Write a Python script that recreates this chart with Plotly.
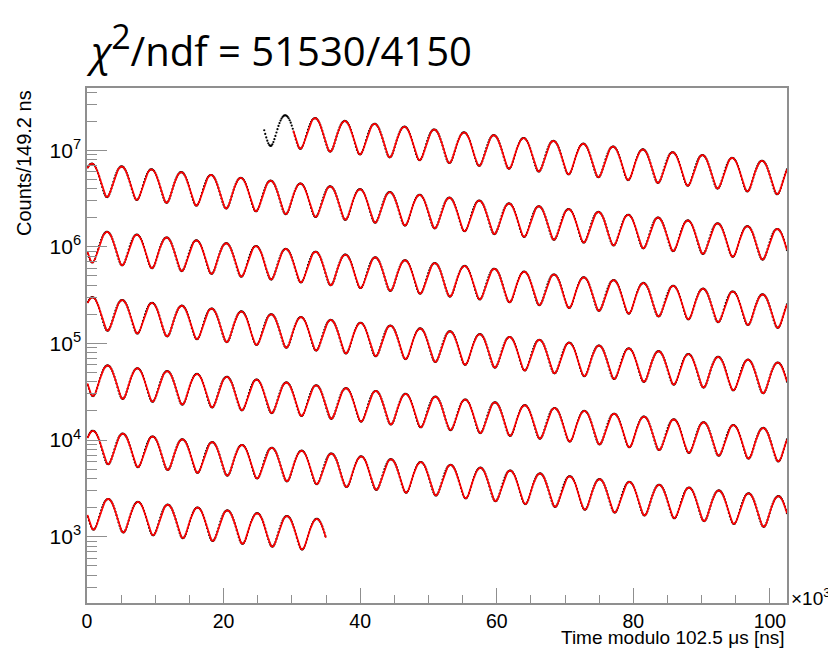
import numpy as np
import plotly.graph_objects as go

# Histogram binning and wrap of the time axis (microseconds)
BIN_WIDTH_US = 0.1492
WRAP_US = 102.5
DATA_START_US = 25.95
DATA_END_US = 650.0
FIT_START_US = 30.2

# Fitted five-parameter wiggle: N0 * exp(-t/tau) * (1 + A cos(omega_a (t - t_peak)))
N0 = 2.65e7
TAU_US = 64.4
ASYM = 0.365
PERIOD_US = 4.3635
T_PEAK_US = 29.05

CHI2 = 51530
NDF = 4150

X_TICKS = [0, 20, 40, 60, 80, 100]
Y_DECADES = [3, 4, 5, 6, 7]


def wiggle(t):
    return N0 * np.exp(-t / TAU_US) * (1 + ASYM * np.cos(2 * np.pi * (t - T_PEAK_US) / PERIOD_US))


def wrapped(t, y):
    """Fold time modulo WRAP_US, breaking the line between rows."""
    row = np.floor(t / WRAP_US).astype(int)
    xs, ys = [], []
    for k in np.unique(row):
        m = row == k
        xs.extend((t[m] - k * WRAP_US).tolist())
        ys.extend(y[m].tolist())
        xs.append(None)
        ys.append(None)
    return xs, ys


t_data = np.arange(DATA_START_US, DATA_END_US, BIN_WIDTH_US)
counts = wiggle(t_data)
t_fit = np.arange(FIT_START_US, DATA_END_US, BIN_WIDTH_US / 2)
fit = wiggle(t_fit)

xd, yd = wrapped(t_data, counts)
xf, yf = wrapped(t_fit, fit)

AX_COL = "#8f8f8f"
FONT = "Liberation Sans, Arial, Helvetica, sans-serif"

fig = go.Figure()
fig.add_trace(go.Scatter(x=xd, y=yd, mode="markers",
                         marker=dict(color="black", size=2.2),
                         hoverinfo="skip", showlegend=False))
fig.add_trace(go.Scatter(x=xf, y=yf, mode="lines",
                         line=dict(color="#ff0000", width=1.7),
                         connectgaps=False, hoverinfo="skip", showlegend=False))

minor_y = [m * 10 ** d for d in range(2, 8) for m in range(2, 10)]

fig.update_layout(
    width=828, height=650,
    margin=dict(l=87, r=41, t=88, b=47),
    paper_bgcolor="white", plot_bgcolor="white",
    font=dict(family=FONT, size=20, color="black"),
    xaxis=dict(
        range=[0, WRAP_US], showgrid=False, zeroline=False,
        showline=True, linecolor=AX_COL, linewidth=1.5, mirror=True,
        ticks="inside", ticklen=15, tickwidth=1.3, tickcolor=AX_COL,
        tickvals=X_TICKS, ticktext=[str(v) for v in X_TICKS],
        minor=dict(ticks="inside", ticklen=8, tickwidth=1.3, tickcolor=AX_COL,
                   tickvals=[v for v in range(5, 105, 5) if v % 20]),
        tickfont=dict(size=19.5),
    ),
    yaxis=dict(
        type="log", range=[2.313, 7.645], showgrid=False, zeroline=False,
        showline=True, linecolor=AX_COL, linewidth=1.5, mirror=True,
        ticks="inside", ticklen=20, tickwidth=1.3, tickcolor=AX_COL,
        tickvals=[10 ** d for d in Y_DECADES],
        ticktext=["10<sup>%d</sup>" % d for d in Y_DECADES],
        minor=dict(ticks="inside", ticklen=10, tickwidth=1.3, tickcolor=AX_COL,
                   tickvals=minor_y),
        tickfont=dict(size=21),
    ),
)

fig.add_annotation(
    xref="paper", yref="paper", x=-0.004, y=1.083, xanchor="left", yanchor="middle",
    text="<i>χ</i><sup><span style='font-size:34px'>2</span></sup>/ndf = %d/%d" % (CHI2, NDF),
    showarrow=False,
    font=dict(family="Open Sans, sans-serif", size=40, color="black"),
)
fig.add_annotation(
    xref="paper", yref="paper", x=-0.090, y=1.0, xanchor="center", yanchor="top",
    text="Counts/149.2 ns", textangle=-90, showarrow=False,
    font=dict(size=20),
)
fig.add_annotation(
    xref="paper", yref="paper", x=1.0, y=-47 / 514.5, xanchor="right", yanchor="bottom",
    text="Time modulo 102.5 μs [ns]", showarrow=False, font=dict(size=19),
)
fig.add_annotation(
    xref="paper", yref="paper", x=1.003, y=0.012, xanchor="left", yanchor="middle",
    text="×10<sup>3</sup>", showarrow=False, font=dict(size=19),
)

fig.write_html("out.html")
